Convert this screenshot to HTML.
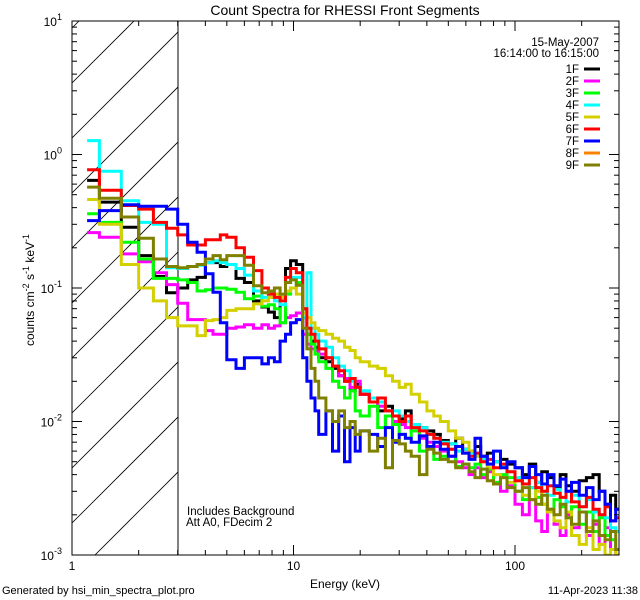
<!DOCTYPE html>
<html><head><meta charset="utf-8"><style>
body{margin:0;background:#fff;}
svg{display:block;font-family:"Liberation Sans",sans-serif;}
</style></head><body>
<svg id="chart" width="640" height="600">
<rect x="0" y="0" width="640" height="600" fill="#fff"/>
<defs><clipPath id="hclip"><rect x="72" y="21" width="106" height="534"/></clipPath>
<clipPath id="pclip"><rect x="72" y="21" width="547" height="534"/></clipPath></defs>
<g id="hatch" clip-path="url(#hclip)"></g>
<line x1="178" y1="21" x2="178" y2="555" stroke="#000" stroke-width="1"/>
<g id="series" clip-path="url(#pclip)"></g>
<rect x="72" y="21" width="547" height="534" fill="none" stroke="#000" stroke-width="1"/>
<g id="axes"></g>
<text x="345" y="15" font-size="14" text-anchor="middle">Count Spectra for RHESSI Front Segments</text>
<text x="345" y="588" font-size="12" text-anchor="middle">Energy (keV)</text>
<text transform="translate(34,290) rotate(-90)" font-size="12" text-anchor="middle">counts cm<tspan dy="-5" font-size="9">-2</tspan><tspan dy="5"> s</tspan><tspan dy="-5" font-size="9">-1</tspan><tspan dy="5"> keV</tspan><tspan dy="-5" font-size="9">-1</tspan></text>
<text x="599" y="46" font-size="11.5" text-anchor="end">15-May-2007</text>
<text x="599" y="57" font-size="11.5" text-anchor="end">16:14:00 to 16:15:00</text>
<g id="legend"></g>
<text x="187" y="515" font-size="11.5">Includes Background</text>
<text x="186" y="526" font-size="11.5">Att A0, FDecim 2</text>
<text x="2" y="594" font-size="11">Generated by hsi_min_spectra_plot.pro</text>
<text x="638" y="594" font-size="11" text-anchor="end">11-Apr-2023 11:38</text>
</svg>
<script>
const edges=[1.17,1.33,1.67,2,2.33,2.67,3,3.33,3.67,4,4.33,4.67,5,5.5,6,6.6,7.2,7.7,8.2,8.7,9.2,9.7,10.3,11,11.5,12,12.5,13,14,15,16,17,18,19,20,22,24,26,28,30,32,34,37,40,43,46,50,54,58,62,66,70,75,80,86,92,100,108,116,124,132,140,150,160,170,180,195,210,225,240,255,270,285,300];
const seriesNames=["1F","2F","3F","4F","5F","6F","7F","8F","9F"];
const seriesColors=["#000000","#ff00ff","#00ff00","#00ffff","#d4d000","#ff0000","#0000ff","#ff8000","#808000"];
const s1F=[0.64,0.44,0.285,0.175,0.122,0.092,0.10,0.115,0.12,0.155,0.155,0.145,0.15,0.118,0.11,0.08,0.072,0.066,0.06,0.085,0.14,0.16,0.15,0.07,0.045,0.04,0.036,0.03,0.028,0.025,0.022,0.02,0.017,0.019,0.016,0.014,0.012,0.013,0.011,0.0105,0.012,0.0095,0.009,0.0085,0.008,0.0072,0.0068,0.0075,0.0062,0.006,0.0065,0.0055,0.0058,0.005,0.0052,0.0048,0.0045,0.004,0.0048,0.0035,0.0042,0.0038,0.0032,0.004,0.0033,0.003,0.0036,0.0038,0.004,0.003,0.0024,0.0028,0.0022];
const s2F=[0.26,0.24,0.18,0.157,0.13,0.106,0.077,0.058,0.058,0.048,0.045,0.045,0.05,0.051,0.053,0.05,0.053,0.05,0.052,0.055,0.06,0.062,0.065,0.045,0.038,0.035,0.034,0.032,0.03,0.026,0.022,0.021,0.018,0.02,0.016,0.014,0.013,0.012,0.010,0.0095,0.009,0.0085,0.0075,0.007,0.0065,0.006,0.0055,0.005,0.0045,0.004,0.0045,0.0038,0.0042,0.0035,0.003,0.0033,0.0024,0.002,0.0026,0.0018,0.0015,0.0022,0.0017,0.0014,0.002,0.0016,0.0021,0.0014,0.0017,0.0012,0.0016,0.0011,0.001];
const s3F=[0.36,0.31,0.22,0.165,0.118,0.118,0.115,0.11,0.095,0.097,0.10,0.10,0.098,0.093,0.083,0.087,0.073,0.075,0.07,0.055,0.09,0.10,0.11,0.06,0.045,0.038,0.032,0.028,0.025,0.02,0.018,0.015,0.017,0.012,0.011,0.013,0.009,0.011,0.0095,0.008,0.0075,0.0085,0.006,0.0065,0.0052,0.0055,0.0062,0.0046,0.0048,0.0045,0.0048,0.004,0.0044,0.0035,0.004,0.0038,0.003,0.0026,0.0032,0.0027,0.0024,0.0021,0.0026,0.0023,0.0019,0.0023,0.0017,0.0021,0.0015,0.0019,0.0014,0.0013,0.0011];
const s4F=[1.27,0.75,0.45,0.31,0.30,0.142,0.14,0.145,0.148,0.155,0.16,0.155,0.15,0.14,0.125,0.095,0.085,0.09,0.08,0.075,0.11,0.12,0.12,0.06,0.13,0.05,0.045,0.04,0.036,0.03,0.026,0.024,0.02,0.018,0.017,0.015,0.014,0.012,0.012,0.011,0.01,0.0095,0.009,0.008,0.0075,0.007,0.0068,0.006,0.0062,0.0058,0.0055,0.0052,0.0048,0.005,0.0046,0.0042,0.0038,0.0034,0.0032,0.0035,0.003,0.0028,0.0031,0.0027,0.0025,0.0028,0.0023,0.0026,0.0021,0.002,0.0019,0.0016,0.0015];
const s5F=[0.46,0.30,0.15,0.10,0.08,0.06,0.052,0.052,0.044,0.057,0.058,0.06,0.068,0.07,0.07,0.076,0.08,0.085,0.09,0.085,0.095,0.10,0.09,0.065,0.06,0.055,0.05,0.048,0.045,0.042,0.04,0.036,0.034,0.03,0.028,0.026,0.025,0.022,0.02,0.018,0.019,0.016,0.014,0.012,0.011,0.01,0.0085,0.0075,0.007,0.006,0.0055,0.005,0.0045,0.004,0.0038,0.0035,0.0036,0.0028,0.0026,0.003,0.0024,0.0021,0.0018,0.0016,0.0021,0.0014,0.0012,0.0016,0.0011,0.0012,0.001,0.0011,0.001];
const s6F=[0.77,0.54,0.415,0.39,0.31,0.28,0.25,0.21,0.21,0.23,0.23,0.25,0.24,0.20,0.17,0.135,0.10,0.09,0.085,0.08,0.12,0.14,0.13,0.07,0.05,0.045,0.04,0.035,0.03,0.026,0.024,0.02,0.021,0.018,0.016,0.014,0.015,0.012,0.011,0.010,0.011,0.009,0.0085,0.008,0.0075,0.0068,0.0062,0.0065,0.0058,0.0055,0.0058,0.005,0.0052,0.0045,0.0048,0.0042,0.0036,0.0034,0.0038,0.0032,0.003,0.0033,0.0029,0.0027,0.003,0.0025,0.0023,0.0027,0.0022,0.002,0.0023,0.0018,0.0019];
const s7F=[0.32,0.38,0.42,0.41,0.41,0.39,0.30,0.22,0.185,0.128,0.093,0.055,0.029,0.025,0.03,0.03,0.027,0.03,0.028,0.04,0.045,0.055,0.058,0.03,0.02,0.015,0.012,0.008,0.012,0.006,0.011,0.005,0.009,0.006,0.0085,0.008,0.0065,0.009,0.007,0.008,0.0075,0.007,0.0078,0.0065,0.007,0.0062,0.0055,0.0065,0.0058,0.0052,0.0075,0.0055,0.0048,0.006,0.0045,0.005,0.0045,0.0038,0.0046,0.004,0.0034,0.004,0.0033,0.0037,0.003,0.0035,0.0028,0.0032,0.0026,0.003,0.0024,0.0018,0.0022];
const s8F=[];
const s9F=[0.57,0.47,0.34,0.236,0.165,0.145,0.142,0.145,0.15,0.165,0.175,0.163,0.175,0.175,0.148,0.104,0.092,0.095,0.10,0.09,0.11,0.115,0.105,0.05,0.035,0.025,0.02,0.015,0.012,0.01,0.012,0.009,0.01,0.008,0.0085,0.006,0.0075,0.0045,0.0072,0.0068,0.006,0.0055,0.004,0.0062,0.0058,0.0052,0.005,0.0045,0.0048,0.0042,0.0038,0.0044,0.0036,0.0034,0.0038,0.0032,0.003,0.0032,0.0026,0.0024,0.0028,0.0022,0.002,0.0024,0.0019,0.0017,0.0021,0.0015,0.0018,0.0014,0.0013,0.0015,0.0011];
const seriesValues=[s1F,s2F,s3F,s4F,s5F,s6F,s7F,s8F,s9F];
const xTickMajor=[1,10,100];
const xTickLabels=["1","10","100"];
const yTickMajor=[-3,-2,-1,0,1];

const X0=72,X1=619,Y0=555,Y1=21;
const XDEC=221.5, YMIN=-3, YMAX=1;
function xs(e){return X0+XDEC*Math.log10(e);}
function ys(v){return Y0-(Math.log10(v)-YMIN)/(YMAX-YMIN)*(Y0-Y1);}
const NS="http://www.w3.org/2000/svg";
function mk(tag,attrs,parent){const el=document.createElementNS(NS,tag);for(const k in attrs)el.setAttribute(k,attrs[k]);parent.appendChild(el);return el;}

const hg=document.getElementById('hatch');
for(let c=28-55*2;c<600;c+=55){
  const ln=mk('line',{x1:72,y1:c,x2:72+700,y2:c-700,stroke:'#000','stroke-width':0.8},hg);
  
  
}

const sg=document.getElementById('series');
seriesValues.forEach((vals,si)=>{
  if(!vals.length)return;
  let d='';
  vals.forEach((v,i)=>{
    const vv=Math.max(v,0.0009);
    const y=ys(vv).toFixed(1);
    const xa=xs(edges[i]).toFixed(1), xb=xs(edges[i+1]).toFixed(1);
    d+=(i===0?'M':'L')+xa+','+y+'L'+xb+','+y;
  });
  const p=mk('path',{d:d,fill:'none',stroke:seriesColors[si],'stroke-width':3,'stroke-linejoin':'miter'},sg);
  
  
});

const ag=document.getElementById('axes');
function tick(x1,y1,x2,y2,name){const t=mk('line',{x1:x1,y1:y1,x2:x2,y2:y2,stroke:'#000','stroke-width':1},ag);}
for(let dec=0;dec<3;dec++){
  for(let m=1;m<=9;m++){
    const e=Math.pow(10,dec)*m; const x=xs(e); if(x>X1)continue;
    const L=m===1?10:5;
    tick(x,Y0,x,Y0-L,'x-tick'); tick(x,Y1,x,Y1+L,'x-tick-top');
  }
}
xTickMajor.forEach((e,i)=>{
  const t=mk('text',{x:xs(e),y:570,'font-size':12,'text-anchor':'middle'},ag);
  t.textContent=xTickLabels[i];
  
  
});
yTickMajor.forEach((p)=>{
  const y=ys(Math.pow(10,p));
  tick(X0,y,X0+10,y,'y-tick'); tick(X1,y,X1-10,y,'y-tick-right');
  if(p<YMAX){for(let m=2;m<=9;m++){const yy=ys(m*Math.pow(10,p));tick(X0,yy,X0+5,yy,'y-minor-tick');tick(X1,yy,X1-5,yy,'y-minor-tick-right');}}
  const t=mk('text',{x:62,y:y+5,'font-size':12,'text-anchor':'end'},ag);
  t.textContent='10';
  
  
  const s=mk('tspan',{dy:-6,'font-size':9},t); s.textContent=String(p);
});

const lg=document.getElementById('legend');
seriesNames.forEach((n,i)=>{
  const y=69+i*12;
  const t=mk('text',{x:579,y:y+4,'font-size':11.5,'text-anchor':'end'},lg);
  t.textContent=n;
  
  
  const l=mk('line',{x1:584,y1:y,x2:600,y2:y,stroke:seriesColors[i],'stroke-width':3},lg);
  
  
});
</script>
</body></html>
